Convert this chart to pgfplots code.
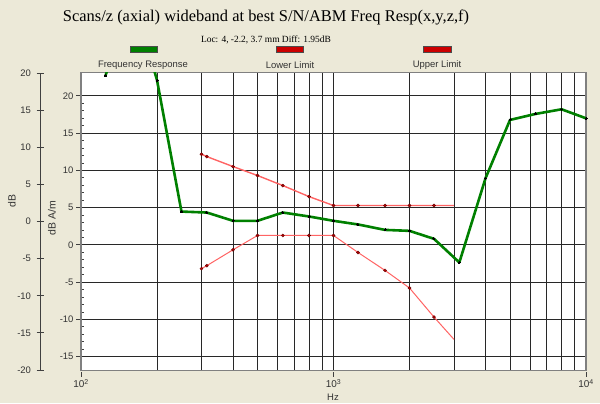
\documentclass[border=0pt]{standalone}
\usepackage{pgfplots}
\pgfplotsset{compat=1.18}
\usepackage{fontspec}
\setmainfont{Liberation Sans}
\newfontfamily\seriffont{Liberation Serif}
\definecolor{bg}{HTML}{ECE9D8}
\definecolor{frgreen}{HTML}{008000}
\definecolor{limred}{HTML}{FF6464}
\definecolor{markred}{HTML}{B00000}
\definecolor{swred}{HTML}{CC0000}
\definecolor{gridc}{HTML}{282828}
\definecolor{framec}{HTML}{808080}

\pgfplotstableread{
f v
125 22.7
160 33.5
200 22.1
250 4.46
315 4.33
400 3.22
500 3.22
630 4.33
800 3.8
1000 3.22
1250 2.73
1600 2.0
2000 1.87
2500 0.8
3150 -2.37
4000 8.94
5000 16.76
6300 17.56
8000 18.19
10000 16.98
}\freqresp

\pgfplotstableread{
f v
300 -3.2
315 -2.8
400 -0.67
500 1.25
630 1.25
800 1.25
1000 1.25
1250 -1.03
1600 -3.44
2000 -5.8
2500 -9.7
3000 -12.7
}\lowerlim

\pgfplotstableread{
f v
300 12.16
315 11.84
400 10.5
500 9.3
630 7.95
800 6.47
1000 5.27
1250 5.27
1600 5.27
2000 5.27
2500 5.27
3000 5.27
}\upperlim

\begin{document}
\begin{tikzpicture}[x=1bp,y=1bp]
\fill[bg] (0,0) rectangle (600,403);
\useasboundingbox (0,0) rectangle (600,403);

% titles
\node[font=\seriffont\fontsize{16.5}{16.5}\selectfont] at (266,386) {Scans/z (axial) wideband at best S/N/ABM Freq Resp(x,y,z,f)};
\node[font=\seriffont\fontsize{9.5}{9.5}\selectfont] at (266,363) {Loc: 4, -2.2, 3.7 mm Diff: 1.95dB};

% legend
\filldraw[fill=frgreen, draw=black!70, line width=0.6bp] (130,351) rectangle (157,357);
\filldraw[fill=swred, draw=black!70, line width=0.6bp] (276,351) rectangle (303,357);
\filldraw[fill=swred, draw=black!70, line width=0.6bp] (423,351) rectangle (451,357);
\node[font=\fontsize{9.5}{9.5}\selectfont, text=black!80] at (143,338) {Frequency Response};
\node[font=\fontsize{9.5}{9.5}\selectfont, text=black!80] at (290,338) {Lower Limit};
\node[font=\fontsize{9.5}{9.5}\selectfont, text=black!80] at (437,338) {Upper Limit};

% axis labels
\node[rotate=90, font=\fontsize{10.5}{10.5}\selectfont, text=black!80] at (12,202) {dB};
\node[rotate=90, font=\fontsize{10.5}{10.5}\selectfont, text=black!80] at (52,185) {dB A/m};
\node[font=\fontsize{9.5}{9.5}\selectfont, text=black!80] at (333,6) {Hz};

% outer dB axis
\begin{axis}[
  at={(40bp,33bp)}, anchor=south west,
  scale only axis, width=10bp, height=297bp,
  xmin=0, xmax=1, ymin=-20, ymax=20,
  hide x axis, axis y line*=left,
  axis line style={black!75, line width=0.8bp},
  ytick={-20,-15,...,20},
  tick align=center, major tick length=7bp,
  ytick style={black!75, line width=0.8bp},
  yticklabel style={font=\fontsize{9.5}{9.5}\selectfont, text=black!80, xshift=-2bp},
  /pgf/number format/assume math mode=true,
]
\addplot[draw=none] coordinates {(0,0)};
\end{axis}

% main axis
\begin{axis}[
  at={(81bp,32.3bp)}, anchor=south west,
  scale only axis, width=505bp, height=298bp,
  xmode=log, xmin=100, xmax=10000,
  ymin=-16.9, ymax=23.1,
  axis background/.style={fill=white},
  axis line style={framec, line width=1.2bp},
  xtick={100,1000,10000},
  xticklabels={10\textsuperscript{2},10\textsuperscript{3},10\textsuperscript{4}},
  ytick={-15,-10,...,20},
  minor y tick num=4,
  xtick pos=bottom, ytick pos=left,
  tick align=inside,
  major tick length=5bp, minor tick length=3bp,
  major x tick style={yshift=-6bp, black!75, line width=0.8bp},
  major y tick style={xshift=-5bp, black!75, line width=0.8bp},
  minor y tick style={black!75, line width=0.6bp},
  minor x tick style={draw=none},
  xmajorgrids, xminorgrids, ymajorgrids,
  major grid style={gridc, line width=0.9bp},
  minor grid style={gridc, line width=0.9bp},
  xticklabel style={font=\fontsize{10}{10}\selectfont, text=black!80, yshift=-5bp},
  yticklabel style={font=\fontsize{9.5}{9.5}\selectfont, text=black!80, xshift=-4bp},
  /pgf/number format/assume math mode=true,
]
\addplot[limred, line width=1bp, line join=round] table[x=f, y=v] {\lowerlim};
\addplot[limred, line width=1.4bp, line join=round] table[x=f, y=v] {\upperlim};
\addplot[only marks, mark=*, mark size=1.6bp, mark options={fill=markred, draw=markred!50!black, line width=0.3bp}, mark indices={1,2,3,4,5,6,7,8,9,10,11}] table[x=f, y=v] {\lowerlim};
\addplot[only marks, mark=*, mark size=1.6bp, mark options={fill=markred, draw=markred!50!black, line width=0.3bp}, mark indices={1,2,3,4,5,6,7,8,9,10,11}] table[x=f, y=v] {\upperlim};
\addplot[frgreen, line width=2.6bp, line join=round, mark=*, mark size=1bp, mark options={fill=black, draw=black, line width=0}] table[x=f, y=v] {\freqresp};
\end{axis}
\end{tikzpicture}
\end{document}
